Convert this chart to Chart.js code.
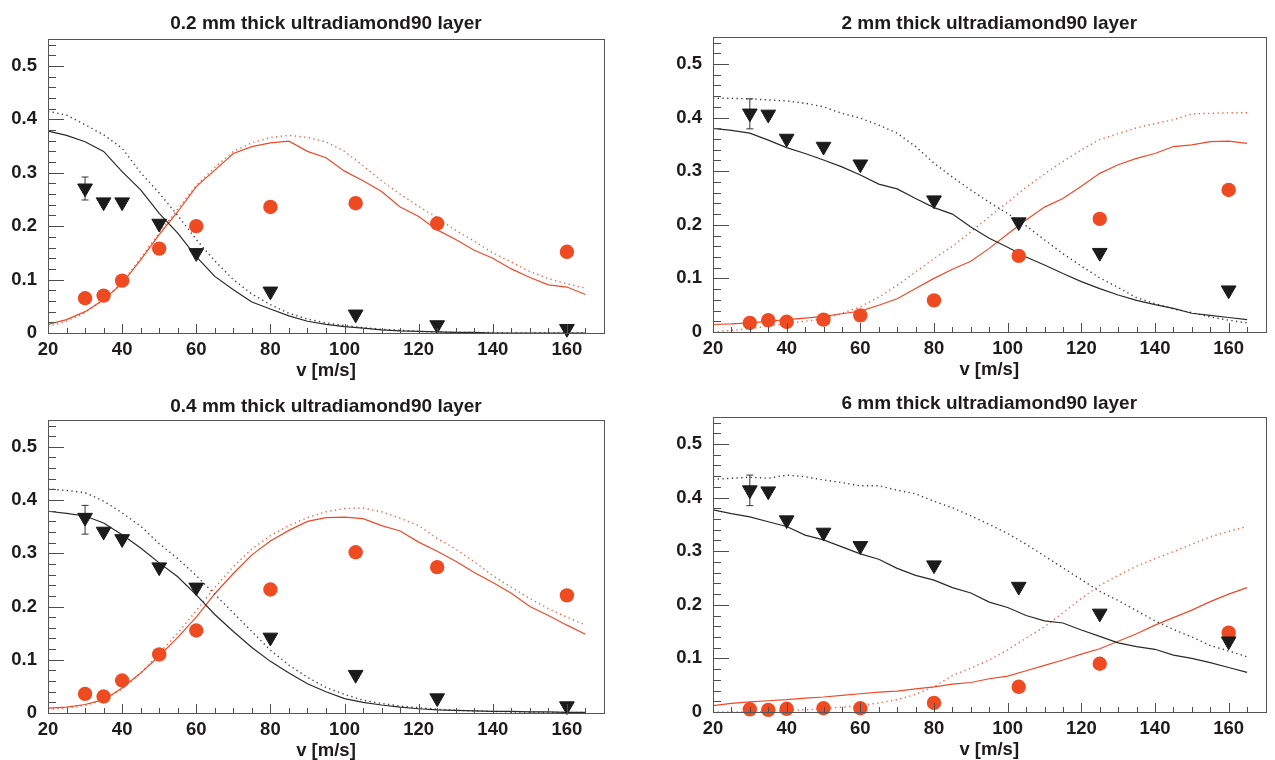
<!DOCTYPE html>
<html>
<head>
<meta charset="utf-8">
<script src="https://cdn.jsdelivr.net/npm/chart.js@4.4.0/dist/chart.umd.min.js"></script>
<style>
html,body{margin:0;padding:0;background:#fff;width:1275px;height:760px;overflow:hidden;position:relative;}
canvas{position:absolute;display:block;}
</style>
</head>
<body>
<canvas id="c1"></canvas>
<canvas id="c2"></canvas>
<canvas id="c3"></canvas>
<canvas id="c4"></canvas>
<script>
// ---------- data ----------
const vCurve = [20,25,30,35,40,45,50,55,60,65,70,75,80,85,90,95,100,105,110,115,120,125,130,135,140,145,150,155,160,165];
const vData = [30,35,40,50,60,80,103,125,160];

const titles = ['0.2 mm thick ultradiamond90 layer','2 mm thick ultradiamond90 layer','0.4 mm thick ultradiamond90 layer','6 mm thick ultradiamond90 layer'];
const xTitle = 'v [m/s]';
const xTickVals = [20,40,60,80,100,120,140,160];
const yTickVals = [0,0.1,0.2,0.3,0.4,0.5];
const yTickLabels = ['0','0.1','0.2','0.3','0.4','0.5'];
const xMinorTicks = [20,25,30,35,40,45,50,55,60,65,70,75,80,85,90,95,100,105,110,115,120,125,130,135,140,145,150,155,160,165];
const yMinorTicks = [0,0.02,0.04,0.06,0.08,0.1,0.12,0.14,0.16,0.18,0.2,0.22,0.24,0.26,0.28,0.3,0.32,0.34,0.36,0.38,0.4,0.42,0.44,0.46,0.48,0.5,0.52,0.54];

// panel 1: 0.2 mm
const p1BlackSolid  = [.378,.370,.358,.340,.302,.268,.224,.187,.143,.106,.081,.058,.045,.032,.022,.016,.012,.009,.006,.004,.003,.002,.001,.001,0,0,0,0,0,0];
const p1BlackDotted = [.415,.408,.390,.371,.346,.300,.262,.220,.175,.135,.100,.073,.053,.037,.026,.019,.014,.010,.007,.005,.003,.002,.001,.001,.001,0,0,0,0,0];
const p1RedSolid    = [.016,.025,.040,.062,.093,.137,.184,.227,.274,.305,.336,.349,.356,.359,.340,.328,.303,.285,.265,.236,.218,.193,.175,.155,.140,.120,.104,.090,.086,.072];
const p1RedDotted   = [.012,.022,.038,.062,.095,.140,.188,.232,.276,.310,.340,.356,.366,.370,.366,.358,.340,.313,.285,.260,.237,.216,.192,.172,.150,.133,.115,.102,.092,.084];
const p1Tri  = [.271,.245,.245,.205,.150,.078,.035,.015,.008];
const p1Circ = [.065,.070,.098,.158,.200,.236,.243,.205,.152];
const p1Err  = [.249,.292];

// panel 2: 2 mm
const p2BlackSolid  = [.380,.376,.371,.358,.344,.333,.321,.308,.293,.276,.267,.249,.232,.220,.196,.175,.158,.140,.125,.109,.094,.081,.069,.059,.051,.044,.035,.031,.027,.023];
const p2BlackDotted = [.436,.436,.435,.433,.431,.427,.420,.408,.399,.386,.371,.346,.315,.289,.265,.242,.221,.198,.172,.146,.123,.101,.083,.064,.053,.043,.036,.028,.022,.017];
const p2RedSolid    = [.014,.015,.017,.020,.023,.026,.029,.034,.039,.050,.062,.081,.100,.117,.132,.156,.183,.209,.233,.249,.272,.296,.312,.324,.333,.346,.349,.355,.356,.352];
const p2RedDotted   = [.000,.003,.006,.011,.016,.020,.025,.035,.047,.065,.087,.112,.137,.160,.187,.215,.242,.270,.295,.318,.340,.359,.370,.381,.389,.396,.407,.408,.409,.409];
const p2Tri  = [.408,.406,.361,.346,.313,.246,.205,.148,.078];
const p2Circ = [.017,.022,.019,.023,.031,.059,.142,.211,.265];
const p2Err  = [.379,.435];

// panel 3: 0.4 mm
const p3BlackSolid  = [.379,.375,.370,.357,.335,.310,.282,.256,.222,.185,.153,.123,.097,.075,.055,.040,.027,.020,.015,.011,.008,.006,.005,.004,.003,.003,.002,.002,.001,.001];
const p3BlackDotted = [.421,.418,.414,.398,.376,.351,.318,.290,.258,.223,.188,.153,.118,.090,.067,.048,.035,.024,.018,.013,.010,.007,.005,.004,.003,.002,.002,.001,.001,.001];
const p3RedSolid    = [.009,.011,.016,.025,.047,.075,.107,.142,.180,.224,.262,.297,.323,.343,.360,.367,.368,.365,.352,.342,.321,.304,.285,.264,.245,.225,.200,.183,.165,.148];
const p3RedDotted   = [.007,.009,.014,.025,.045,.075,.112,.150,.192,.236,.275,.308,.333,.352,.367,.378,.384,.385,.378,.366,.352,.328,.308,.284,.258,.236,.215,.196,.180,.165];
const p3Tri  = [.367,.341,.327,.274,.236,.142,.072,.028,.013];
const p3Circ = [.036,.031,.061,.110,.155,.232,.302,.274,.221];
const p3Err  = [.336,.390];

// panel 4: 6 mm
const p4BlackSolid  = [.377,.370,.364,.355,.346,.330,.321,.308,.295,.285,.268,.255,.246,.232,.222,.205,.195,.180,.170,.166,.153,.141,.129,.122,.117,.106,.100,.092,.083,.074];
const p4BlackDotted = [.434,.436,.438,.436,.442,.439,.433,.428,.422,.422,.414,.407,.393,.381,.366,.350,.333,.313,.291,.269,.247,.225,.208,.189,.170,.154,.140,.124,.114,.103];
const p4RedSolid    = [.012,.016,.019,.021,.023,.026,.028,.031,.034,.037,.039,.043,.047,.052,.055,.062,.067,.077,.087,.097,.108,.118,.132,.146,.162,.176,.190,.206,.220,.232];
const p4RedDotted   = [.000,.000,.000,.001,.003,.004,.006,.009,.012,.017,.023,.033,.047,.068,.082,.097,.116,.138,.159,.185,.212,.236,.255,.272,.286,.299,.313,.327,.337,.346];
const p4Tri  = [.414,.412,.358,.335,.310,.274,.234,.184,.132];
const p4Circ = [.005,.004,.006,.007,.007,.017,.047,.090,.148];
const p4Err  = [.385,.442];

// ---------- style ----------
const FONT = "'Liberation Sans', Arial, Helvetica, sans-serif";
const TXT = '#1e1b1c';
const BLACK = '#2a2a2a';
const RED = '#ee4a28';
const MARK_RED = '#ef4b23';

function pts(xs, ys){ return xs.map((x,i)=>({x:x,y:ys[i]})); }

const framePlugin = {
  id:'frameTicks',
  afterDatasetsDraw(chart){
    const {ctx, chartArea:a, scales:{x,y}} = chart;
    ctx.save();
    ctx.strokeStyle = '#4d4d4d';
    ctx.lineWidth = 1;
    ctx.beginPath();
    xMinorTicks.forEach(v=>{
      const px = Math.round(x.getPixelForValue(v)) + 0.5;
      const len = xTickVals.includes(v) ? 9 : 5;
      ctx.moveTo(px, a.bottom); ctx.lineTo(px, a.bottom - len);
    });
    yMinorTicks.forEach(v=>{
      const py = Math.round(y.getPixelForValue(v)) + 0.5;
      const major = yTickVals.some(t=>Math.abs(t-v)<1e-9);
      const len = major ? 16 : 8;
      ctx.moveTo(a.left, py); ctx.lineTo(a.left + len, py);
    });
    ctx.stroke();
    ctx.strokeStyle = '#555';
    ctx.strokeRect(Math.round(a.left)+0.5, Math.round(a.top)+0.5, Math.round(a.right-a.left), Math.round(a.bottom-a.top));
    ctx.restore();
  }
};

const errPlugin = {
  id:'errBar',
  beforeDatasetsDraw(chart, args, opts){
    const {ctx, scales:{x,y}} = chart;
    const px = x.getPixelForValue(opts.x);
    const y1 = y.getPixelForValue(opts.lo), y2 = y.getPixelForValue(opts.hi);
    ctx.save();
    ctx.strokeStyle = '#333';
    ctx.lineWidth = 1;
    ctx.beginPath();
    ctx.moveTo(px, y1); ctx.lineTo(px, y2);
    ctx.moveTo(px-3.5, y1); ctx.lineTo(px+3.5, y1);
    ctx.moveTo(px-3.5, y2); ctx.lineTo(px+3.5, y2);
    ctx.stroke();
    ctx.restore();
  }
};

function makePanel(cfg){
  const cv = document.getElementById(cfg.id);
  cv.width = cfg.w; cv.height = cfg.h;
  cv.style.width = cfg.w+'px'; cv.style.height = cfg.h+'px';
  cv.style.left = cfg.left+'px'; cv.style.top = cfg.top+'px';
  const lineDs = (data, color, dotted) => ({
    type:'scatter', data: pts(vCurve, data), showLine:true, pointRadius:0,
    borderColor: color, borderWidth: dotted ? 1.4 : 1.2, borderDash: dotted ? [1.3,3.4] : [],
    tension:0, fill:false
  });
  new Chart(cv, {
    type:'scatter',
    data:{ datasets:[
      { data: pts(vData, cfg.tri), pointStyle:'triangle', rotation:180, pointRadius:8.5,
        backgroundColor:'#1b1b1b', borderColor:'#1b1b1b', borderWidth:1, clip:false },
      { data: pts(vData, cfg.circ), pointStyle:'circle', pointRadius:7.2,
        backgroundColor:MARK_RED, borderColor:MARK_RED, borderWidth:0, clip:false },
      lineDs(cfg.bs, BLACK, false),
      lineDs(cfg.bd, '#3a3a3a', true),
      lineDs(cfg.rs, RED, false),
      lineDs(cfg.rd, '#f0603e', true)
    ]},
    options:{
      responsive:false, animation:false, devicePixelRatio:1,
      layout:{ padding:{ left:0, right:cfg.padRight, top:0, bottom:0 } },
      plugins:{
        legend:{display:false}, tooltip:{enabled:false},
        title:{ display:true, text:cfg.title, fullSize:false, color:TXT,
          font:{family:FONT, size:19, weight:'bold'}, padding:{top:cfg.tTop, bottom:cfg.tBot} },
        errBar:{ x:vData[0], lo:cfg.err[0], hi:cfg.err[1] }
      },
      scales:{
        x:{ type:'linear', min:20, max:170,
          grid:{display:false, drawTicks:false}, border:{display:false},
          afterBuildTicks: s => { s.ticks = xTickVals.map(v=>({value:v})); },
          afterFit: s => { s.height = 47; },
          ticks:{ color:TXT, font:{family:FONT, size:18.5, weight:'bold'}, padding:6, maxRotation:0, autoSkip:false,
            callback: v => String(v) },
          title:{ display:true, text:xTitle, color:TXT, font:{family:FONT, size:18.5, weight:'bold'}, padding:{top:0,bottom:-2} }
        },
        y:{ type:'linear', min:0, max:0.55,
          grid:{display:false, drawTicks:false}, border:{display:false},
          afterBuildTicks: s => { s.ticks = yTickVals.map(v=>({value:v})); },
          afterFit: s => { s.width = 48; },
          ticks:{ color:TXT, font:{family:FONT, size:18.5, weight:'bold'}, padding:11, autoSkip:false,
            callback: v => { const i = yTickVals.findIndex(t=>Math.abs(t-v)<1e-9); return i>=0 ? yTickLabels[i] : ''; } }
        }
      }
    },
    plugins:[framePlugin, errPlugin]
  });
}

makePanel({id:'c1', left:0,   top:0,   w:637, h:380, padRight:33, tTop:12, tBot:4.4, title:titles[0],
  tri:p1Tri, circ:p1Circ, err:p1Err, bs:p1BlackSolid, bd:p1BlackDotted, rs:p1RedSolid, rd:p1RedDotted});
makePanel({id:'c2', left:665, top:-2,  w:610, h:381, padRight:6,  tTop:14, tBot:2.4, title:titles[1],
  tri:p2Tri, circ:p2Circ, err:p2Err, bs:p2BlackSolid, bd:p2BlackDotted, rs:p2RedSolid, rd:p2RedDotted});
makePanel({id:'c3', left:0,   top:381, w:637, h:379, padRight:33, tTop:14, tBot:2.4, title:titles[2],
  tri:p3Tri, circ:p3Circ, err:p3Err, bs:p3BlackSolid, bd:p3BlackDotted, rs:p3RedSolid, rd:p3RedDotted});
makePanel({id:'c4', left:665, top:378, w:610, h:381, padRight:6,  tTop:14, tBot:2.4, title:titles[3],
  tri:p4Tri, circ:p4Circ, err:p4Err, bs:p4BlackSolid, bd:p4BlackDotted, rs:p4RedSolid, rd:p4RedDotted});
</script>
</body>
</html>
